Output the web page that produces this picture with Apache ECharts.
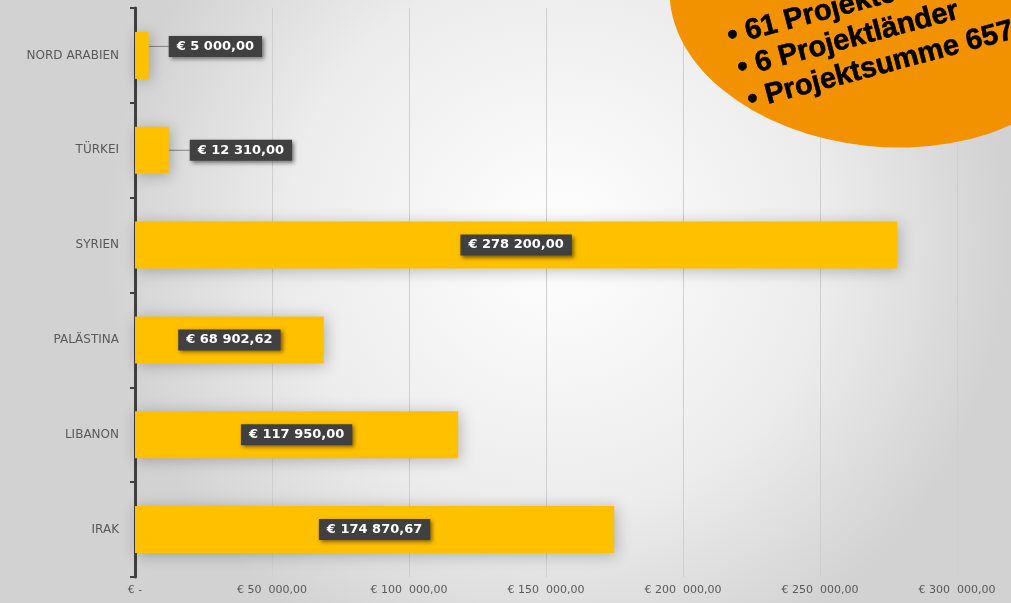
<!DOCTYPE html>
<html>
<head>
<meta charset="utf-8">
<script src="https://cdn.jsdelivr.net/npm/echarts@6/dist/echarts.min.js"></script>
<style>
  html, body { margin: 0; padding: 0; }
  #chart { width: 1011px; height: 603px; }
</style>
</head>
<body>
<div id="chart"></div>
<script>
// Länder (von unten nach oben)
const countries = ["IRAK", "LIBANON", "PALÄSTINA", "SYRIEN", "TÜRKEI", "NORD ARABIEN"];
const amounts = [174870.67, 117950, 68902.62, 278200, 12310, 5000];
const bubbleLines = ["• 61 Projekte", "• 6 Projektländer", "• Projektsumme 657 233,29 €"];

function euro(v) {
  let parts = v.toFixed(2).split(".");
  let i = parts[0].replace(/\B(?=(\d{3})+(?!\d))/g, " ");
  return "€ " + i + "," + parts[1];
}

const chart = echarts.init(document.getElementById("chart"));

chart.setOption({
  animation: false,
  backgroundColor: {
    type: "radial",
    x: 0.55,
    y: 0.4,
    r: 0.75,
    colorStops: [
      { offset: 0, color: "#ffffff" },
      { offset: 0.6, color: "#ececec" },
      { offset: 1, color: "#d2d2d2" },
    ],
  },
  grid: {
    left: 135,
    right: 54,
    top: 8,
    bottom: 26,
  },
  xAxis: {
    type: "value",
    min: 0,
    max: 300000,
    interval: 50000,
    axisLine: { show: false },
    axisTick: { show: false },
    splitLine: { lineStyle: { color: "#cfcfcf", width: 1 } },
    axisLabel: {
      color: "#595959",
      fontFamily: "DejaVu Sans",
      fontSize: 11,
      margin: 8,
      formatter: function (v) {
        if (v === 0) return "€ -";
        // Excel-Format mit doppeltem Leerzeichen vor den Tausendern
        return euro(v).replace(/ (\d{3},)/, "  $1");
      },
    },
  },
  yAxis: {
    type: "category",
    data: countries,
    axisLine: { lineStyle: { color: "#404040", width: 3 } },
    axisTick: { show: true, length: 5, lineStyle: { color: "#404040", width: 2 } },
    axisLabel: {
      color: "#595959",
      fontFamily: "DejaVu Sans",
      fontSize: 12,
      margin: 16,
    },
  },
  series: [
    {
      type: "bar",
      barWidth: 47,
      data: amounts.map(function (v) {
        let item = { value: v };
        if (v < 20000) {
          item.label = { position: "right" };
          item.labelLine = { show: true };
        }
        return item;
      }),
      itemStyle: {
        color: "#ffc000",
        shadowBlur: 14,
        shadowColor: "rgba(0,0,0,0.25)",
        shadowOffsetX: 2,
        shadowOffsetY: 2,
      },
      label: {
        show: true,
        position: "inside",
        formatter: function (p) { return euro(p.value); },
        color: "#ffffff",
        fontFamily: "DejaVu Sans",
        fontWeight: "bold",
        fontSize: 13,
        backgroundColor: "#404040",
        padding: [4, 8],
        shadowBlur: 4,
        shadowColor: "rgba(0,0,0,0.5)",
        shadowOffsetX: 2,
        shadowOffsetY: 2,
      },
      labelLine: {
        lineStyle: { color: "#808080", width: 1 },
      },
      labelLayout: function (p) {
        if (p.dataIndex === 5) return { dx: 15, dy: -9 };
        if (p.dataIndex === 4) return { dx: 16, dy: 0 };
        return {};
      },
    },
  ],
  graphic: [
    {
      type: "circle",
      z: 100,
      x: 882,
      y: 4,
      scaleX: 1,
      scaleY: 0.67,
      rotation: -0.1,
      shape: { cx: 0, cy: 0, r: 213 },
      style: { fill: "#f39200" },
    },
  ].concat(bubbleLines.map(function (t, k) {
    return {
      type: "text",
      z: 101,
      x: 728 + k * 10,
      y: 37 + k * 32,
      rotation: 0.26,
      style: {
        text: t,
        fill: "#000000",
        stroke: "#000000",
        lineWidth: 0.6,
        font: "bold 29px 'Liberation Sans', Arial, sans-serif",
        textVerticalAlign: "middle",
      },
    };
  })),
});
</script>
</body>
</html>
